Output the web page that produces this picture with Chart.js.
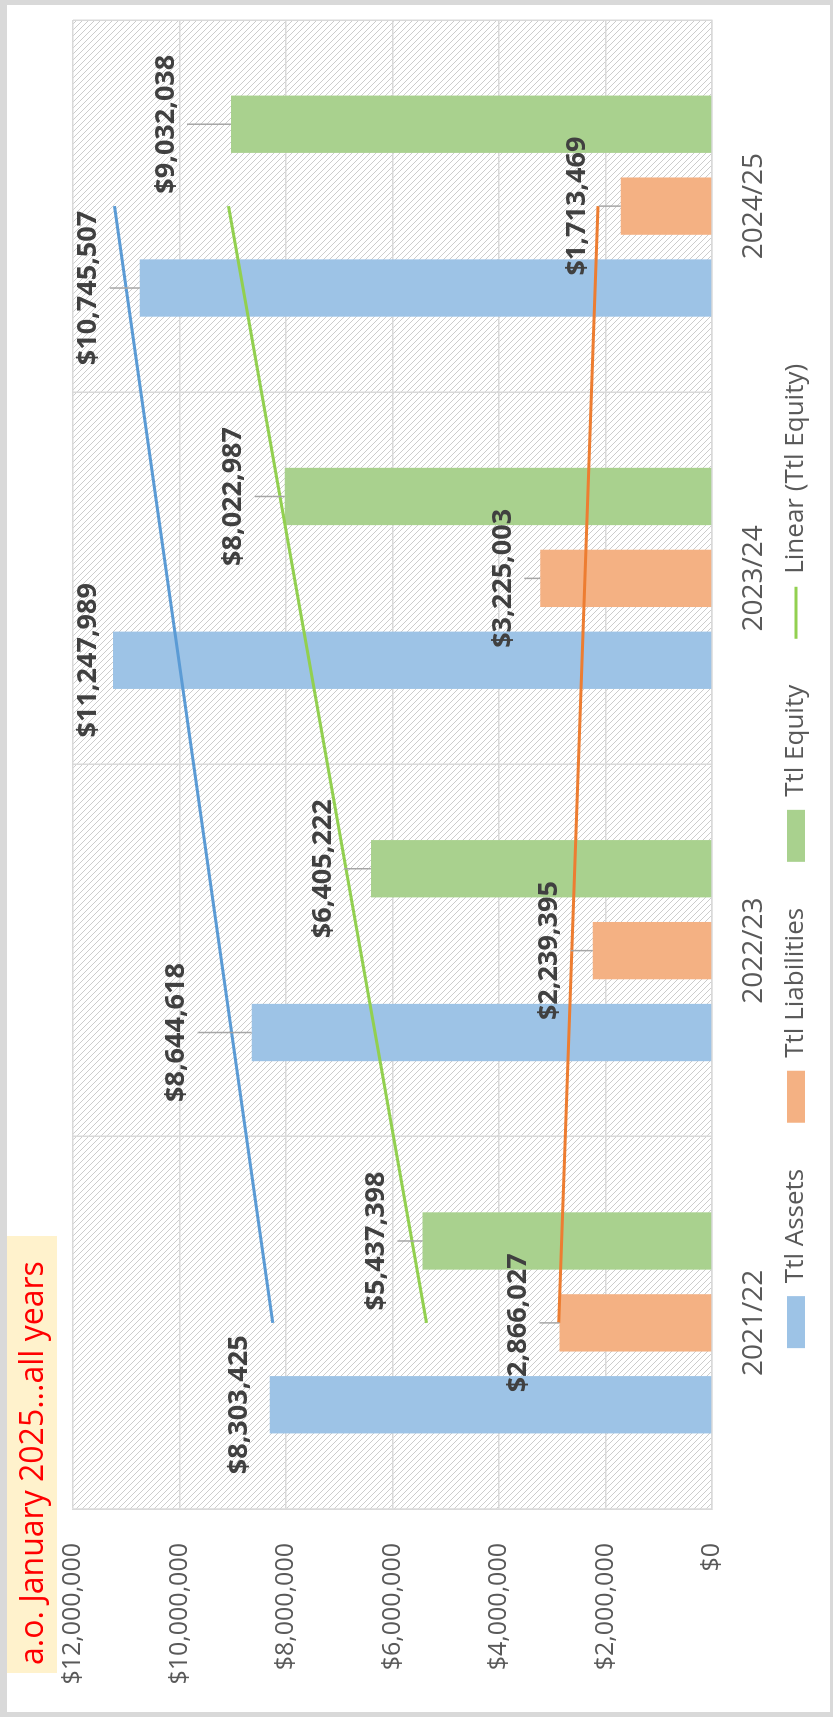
<!DOCTYPE html>
<html>
<head>
<meta charset="utf-8">
<script src="https://cdn.jsdelivr.net/npm/chart.js@4.4.1/dist/chart.umd.min.js"></script>
<style>
  html, body { margin: 0; padding: 0; width: 833px; height: 1717px; overflow: hidden; background: #d9d9d9; }
  /* chart is drawn landscape, then turned a quarter to the left */
  #wrap { position: absolute; left: 0; top: 1717px; width: 1717px; height: 833px; transform-origin: 0 0; transform: rotate(-90deg); }
</style>
</head>
<body>
<div id="wrap"><canvas id="chart" width="1717" height="833"></canvas></div>
<script>
const titleText = 'a.o. January 2025...all years';
const years = ['2021/22', '2022/23', '2023/24', '2024/25'];
const assets = [8303425, 8644618, 11247989, 10745507];
const liabilities = [2866027, 2239395, 3225003, 1713469];
const equity = [5437398, 6405222, 8022987, 9032038];
// linear trend lines, ends
const assetsTrend = [8250000, null, null, 11220000];
const liabilitiesTrend = [2880000, null, null, 2140000];
const equityTrend = [5360000, null, null, 9080000];
const valueTicks = [0, 2000000, 4000000, 6000000, 8000000, 10000000, 12000000];
const legendShown = ['Ttl Assets', 'Ttl Liabilities', 'Ttl Equity', 'Linear (Ttl Equity)'];

// how far each value label sits beyond its bar end (px)
const labelGap = [
  [31, 75, 25, 51],
  [41, 43, 37, 43],
  [46, 48, 51, 65]
];

const money = v => '$' + Number(v).toLocaleString('en-US');
const font = 'Open Sans';
const legendPad = 46;
const legendFont = 26;

const hatch = (() => {
  const c = document.createElement('canvas');
  c.width = 6; c.height = 6;
  const g = c.getContext('2d');
  g.fillStyle = '#ffffff';
  g.fillRect(0, 0, 6, 6);
  g.strokeStyle = '#cccccc';
  g.lineWidth = 1;
  g.beginPath();
  g.moveTo(-1, -1); g.lineTo(7, 7);
  g.moveTo(-1, 5); g.lineTo(1, 7);
  g.moveTo(5, -1); g.lineTo(7, 1);
  g.stroke();
  return c;
})();

const backdrop = {
  id: 'backdrop',
  beforeDraw(chart) {
    const { ctx, chartArea: a } = chart;
    ctx.save();
    ctx.fillStyle = '#d9d9d9';
    ctx.fillRect(0, 0, chart.width, chart.height);
    ctx.fillStyle = '#ffffff';
    ctx.fillRect(5, 7, 1707, 823);
    ctx.fillStyle = ctx.createPattern(hatch, 'repeat');
    ctx.fillRect(a.left, a.top, a.right - a.left, a.bottom - a.top);
    // title box
    ctx.fillStyle = '#fff2cc';
    ctx.fillRect(44, 7, 437, 50);
    ctx.fillStyle = '#ff0000';
    ctx.font = '32px "' + font + '"';
    ctx.textAlign = 'left';
    ctx.textBaseline = 'alphabetic';
    ctx.fillText(titleText, 52, 43);
    ctx.restore();
  }
};

// put the legend row where the picture has it
const legendPlace = {
  id: 'legendPlace',
  afterLayout(chart) {
    const lg = chart.legend;
    lg.top = 796 - legendPad - legendFont / 2;
    lg.bottom = 833;
    lg.height = lg.bottom - lg.top;
    lg.left = 41;
    lg.right = 1681;
  }
};

const valueLabels = {
  id: 'valueLabels',
  afterDatasetsDraw(chart) {
    const ctx = chart.ctx;
    ctx.save();
    ctx.font = 'bold 27px "' + font + '"';
    ctx.fillStyle = '#404040';
    ctx.textAlign = 'center';
    ctx.textBaseline = 'middle';
    ctx.strokeStyle = '#a6a6a6';
    ctx.lineWidth = 1.5;
    [assets, liabilities, equity].forEach((series, i) => {
      chart.getDatasetMeta(i).data.forEach((bar, j) => {
        const gap = labelGap[i][j];
        const cy = bar.y - gap;
        if (gap > 35) {
          ctx.beginPath();
          ctx.moveTo(bar.x, cy + 21);
          ctx.lineTo(bar.x, bar.y);
          ctx.stroke();
        }
        ctx.fillText(money(series[j]), bar.x, cy);
      });
    });
    ctx.restore();
  }
};

const gridColor = '#d9d9d9';

new Chart(document.getElementById('chart'), {
  type: 'bar',
  data: {
    labels: years,
    datasets: [
      { label: 'Ttl Assets', data: assets, backgroundColor: '#9dc3e6', order: 1 },
      { label: 'Ttl Liabilities', data: liabilities, backgroundColor: '#f4b183', order: 1 },
      { label: 'Ttl Equity', data: equity, backgroundColor: '#a9d18e', order: 1 },
      { type: 'line', label: 'Linear (Ttl Assets)', data: assetsTrend, borderColor: '#5b9bd5', borderWidth: 3, pointRadius: 0, spanGaps: true, order: 0 },
      { type: 'line', label: 'Linear (Ttl Liabilities)', data: liabilitiesTrend, borderColor: '#ed7d31', borderWidth: 3, pointRadius: 0, spanGaps: true, order: 0 },
      { type: 'line', label: 'Linear (Ttl Equity)', data: equityTrend, borderColor: '#92d050', borderWidth: 3, pointRadius: 0, spanGaps: true, order: 0 }
    ]
  },
  options: {
    responsive: false,
    animation: false,
    layout: { padding: { left: 0, right: 20, top: 73, bottom: 21 } },
    datasets: { bar: { categoryPercentage: 0.66, barPercentage: 0.7 } },
    scales: {
      x: {
        grid: { color: gridColor, lineWidth: 1.5, drawTicks: false },
        border: { color: gridColor, width: 1.5 },
        ticks: { font: { family: font, size: 28 }, color: '#595959', padding: 25 },
        afterFit: s => { s.height = 60; }
      },
      y: {
        min: 0,
        max: 12000000,
        grid: { color: gridColor, lineWidth: 1.5, drawTicks: false },
        border: { color: gridColor, width: 1.5 },
        ticks: { font: { family: font, size: 25 }, color: '#595959', padding: 34, callback: v => money(v) },
        afterBuildTicks: s => { s.ticks = valueTicks.map(v => ({ value: v })); },
        afterFit: s => { s.width = 208; }
      }
    },
    plugins: {
      tooltip: { enabled: false },
      legend: {
        position: 'bottom',
        maxHeight: 40,
        labels: {
          font: { family: font, size: legendFont },
          color: '#595959',
          usePointStyle: true,
          pointStyleWidth: 52,
          boxHeight: 18,
          padding: legendPad,
          generateLabels: chart => Chart.defaults.plugins.legend.labels.generateLabels(chart)
            .filter(item => legendShown.includes(item.text))
            .sort((a, b) => a.datasetIndex - b.datasetIndex)
            .map(item => Object.assign(item, {
              pointStyle: chart.data.datasets[item.datasetIndex].type === 'line' ? 'line' : 'rect'
            }))
        }
      }
    }
  },
  plugins: [backdrop, legendPlace, valueLabels]
});
</script>
</body>
</html>
